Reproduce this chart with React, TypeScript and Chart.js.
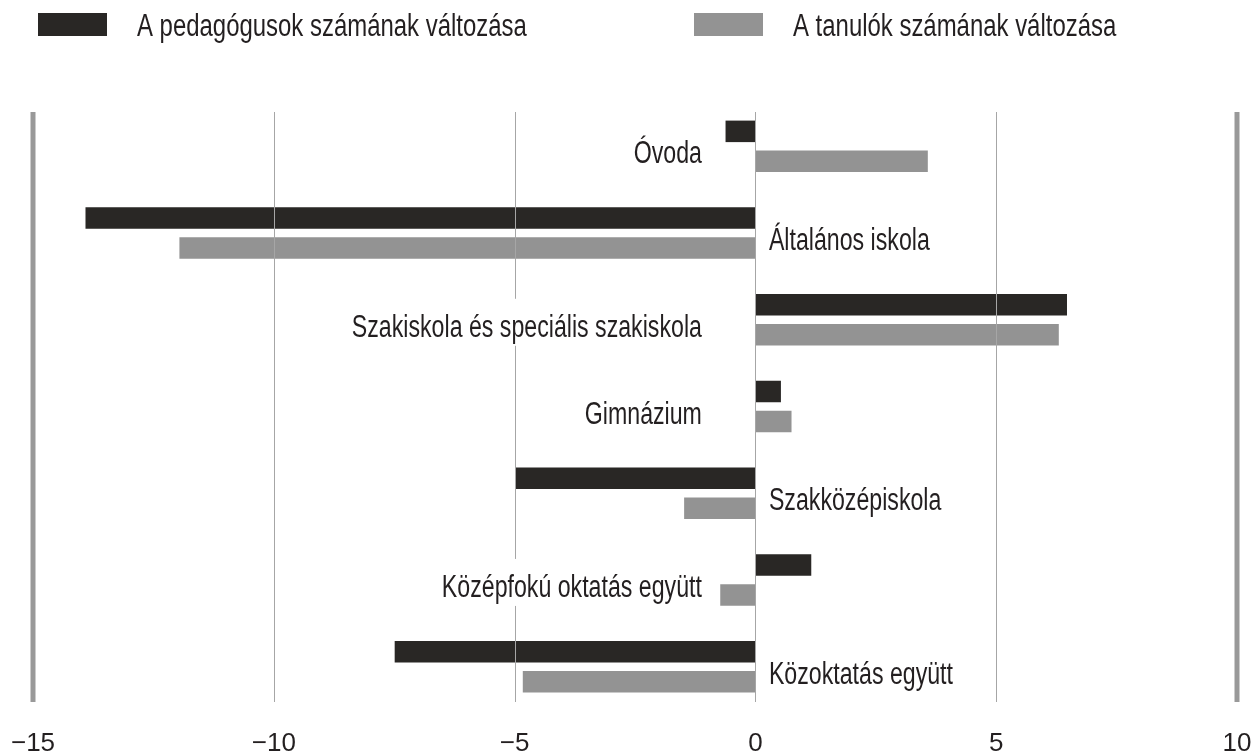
import React, { useEffect, useRef } from 'react';
import { Chart, registerables } from 'chart.js';

Chart.register(...registerables);

const categories = [
  'Óvoda',
  'Általános iskola',
  'Szakiskola és speciális szakiskola',
  'Gimnázium',
  'Szakközépiskola',
  'Középfokú oktatás együtt',
  'Közoktatás együtt',
];
const teacherChange = [-0.62, -13.91, 6.47, 0.53, -4.99, 1.16, -7.49];
const studentChange = [3.58, -11.96, 6.3, 0.75, -1.48, -0.73, -4.83];
const labelSide = ['left', 'right', 'left', 'left', 'right', 'left', 'right'];
const xTicks = [-15, -10, -5, 0, 5, 10];
const seriesNames = ['A pedagógusok számának változása', 'A tanulók számának változása'];
const seriesColors = ['#292725', '#939393'];

const TEXT = '#231f20';
const FONT = '"Liberation Sans", Arial, sans-serif';
const LEGEND_SX = 0.772;
const LABEL_SX = 0.747;

const overlay = {
  id: 'overlay',
  afterDatasetsDraw(chart: any) {
    const { ctx, scales } = chart;
    const x = scales.x;
    const y = scales.y;
    ctx.save();
    const top = 112;
    const bottom = 702;
    xTicks.forEach((v) => {
      const px = x.getPixelForValue(v);
      const edge = v === x.min || v === x.max;
      ctx.strokeStyle = edge ? '#999999' : '#a6a6a6';
      ctx.lineWidth = edge ? 5 : 1;
      const xx = edge ? px : Math.round(px) + 0.5;
      ctx.beginPath();
      ctx.moveTo(xx, top);
      ctx.lineTo(xx, bottom);
      ctx.stroke();
    });
    const zero = x.getPixelForValue(0);
    ctx.font = `31px ${FONT}`;
    ctx.textAlign = 'left';
    ctx.textBaseline = 'alphabetic';
    categories.forEach((c, i) => {
      const cy = y.getPixelForValue(i);
      const base = cy + 17;
      const w = ctx.measureText(c).width * LABEL_SX;
      const left = labelSide[i] === 'left';
      const xEnd = left ? zero - 53.5 : zero + 13.5;
      const x0 = left ? xEnd - w : xEnd;
      ctx.fillStyle = '#ffffff';
      ctx.fillRect(x0 - 4, base - 38, w + 8, 47);
      ctx.save();
      ctx.translate(x0, base);
      ctx.scale(LABEL_SX, 1);
      ctx.fillStyle = TEXT;
      ctx.fillText(c, 0, 0);
      ctx.restore();
    });
    ctx.restore();
  },
  afterDraw(chart: any) {
    const { ctx } = chart;
    ctx.save();
    const legendX = [38, 694];
    ctx.font = `31px ${FONT}`;
    ctx.textAlign = 'left';
    ctx.textBaseline = 'alphabetic';
    seriesNames.forEach((name, i) => {
      const bx = legendX[i];
      ctx.fillStyle = seriesColors[i];
      ctx.fillRect(bx, 13, 69, 23);
      ctx.save();
      ctx.translate(bx + 99, 36);
      ctx.scale(LEGEND_SX, 1);
      ctx.fillStyle = TEXT;
      ctx.fillText(name, 0, 0);
      ctx.restore();
    });
    ctx.restore();
  },
};

export default function App() {
  const ref = useRef<HTMLCanvasElement>(null);
  useEffect(() => {
    const chart = new Chart(ref.current as HTMLCanvasElement, {
      type: 'bar',
      data: {
        labels: categories,
        datasets: [
          {
            label: seriesNames[0],
            data: teacherChange,
            backgroundColor: seriesColors[0],
            borderWidth: 0,
            barPercentage: 0.717,
            categoryPercentage: 0.692,
          },
          {
            label: seriesNames[1],
            data: studentChange,
            backgroundColor: seriesColors[1],
            borderWidth: 0,
            barPercentage: 0.717,
            categoryPercentage: 0.692,
          },
        ],
      },
      options: {
        indexAxis: 'y',
        responsive: false,
        animation: false,
        layout: { padding: { top: 103, left: 33, right: 15, bottom: 0 } },
        plugins: {
          legend: { display: false },
          tooltip: { enabled: false },
        },
        scales: {
          x: {
            type: 'linear',
            min: -15,
            max: 10,
            grid: { display: false, drawTicks: false },
            border: { display: false },
            ticks: {
              stepSize: 5,
              padding: 18,
              color: TEXT,
              font: { family: FONT, size: 26 },
              callback: (v: any) => (Number(v) < 0 ? '\u2212' + Math.abs(Number(v)) : String(v)),
            },
            afterFit: (scale: any) => {
              scale.height = 44;
              scale.paddingLeft = 0;
              scale.paddingRight = 0;
            },
          },
          y: {
            type: 'category',
            display: false,
            grid: { display: false },
          },
        },
      },
      plugins: [overlay],
    } as any);
    return () => chart.destroy();
  }, []);
  return (
    <div style={{ position: 'absolute', left: 0, top: 0, width: 1252, height: 754, background: '#fff' }}>
      <canvas ref={ref} width={1252} height={754} style={{ display: 'block' }} />
    </div>
  );
}
